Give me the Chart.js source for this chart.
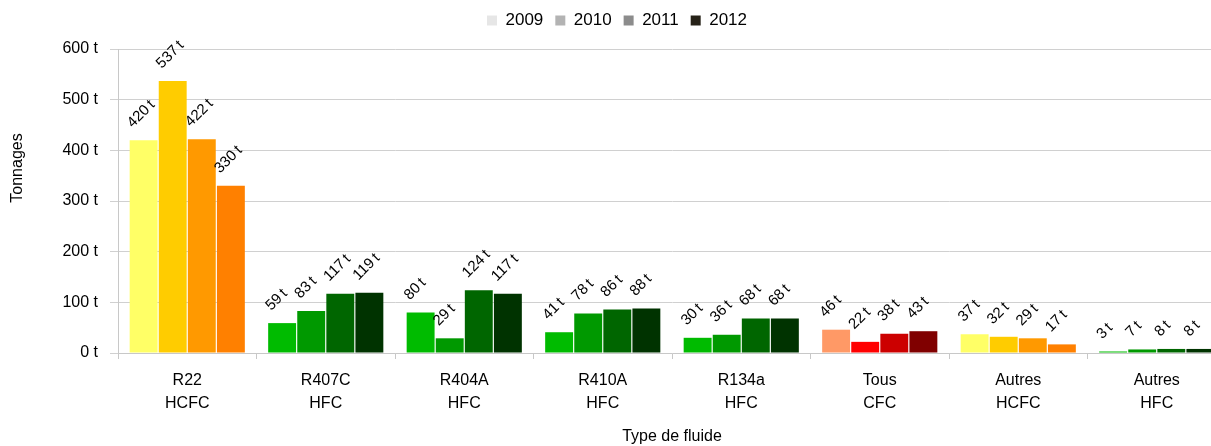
<!DOCTYPE html>
<html>
<head>
<meta charset="utf-8">
<script src="https://cdn.jsdelivr.net/npm/chart.js@4/dist/chart.umd.min.js"></script>
<style>
  html, body { margin: 0; padding: 0; background: #fff; overflow: hidden; }
  #wrap { width: 1211px; height: 446px; overflow: hidden; }
  #wrap div { width: 1226px; height: 446px; }
</style>
</head>
<body>
<div id="wrap"><div><canvas id="fluides" width="1226" height="446"></canvas></div></div>
<script>
// categories (two-line labels)
const categories = [
  ['R22', 'HCFC'], ['R407C', 'HFC'], ['R404A', 'HFC'], ['R410A', 'HFC'],
  ['R134a', 'HFC'], ['Tous', 'CFC'], ['Autres', 'HCFC'], ['Autres', 'HFC']
];
const years = ['2009', '2010', '2011', '2012'];

// tonnages per year
const v2009 = [420, 59, 80, 41, 30, 46, 37, 3];
const v2010 = [537, 83, 29, 78, 36, 22, 32, 7];
const v2011 = [422, 117, 124, 86, 68, 38, 29, 8];
const v2012 = [330, 119, 117, 88, 68, 43, 17, 8];

// colour families (one colour per year)
const hcfcColors = ['#ffff66', '#ffcc00', '#ff9900', '#ff8000'];
const hfcColors = ['#00bb00', '#009900', '#006600', '#003300'];
const cfcColors = ['#ff9966', '#ff0000', '#cc0000', '#800000'];
const family = [hcfcColors, hfcColors, hfcColors, hfcColors, hfcColors, cfcColors, hcfcColors, hfcColors];
const legendColors = ['#e6e6e6', '#b3b3b3', '#8c8c8c', '#262218'];

const yTicks = [0, 100, 200, 300, 400, 500, 600];

const font = "'Liberation Sans', Arial, sans-serif";

const series = [v2009, v2010, v2011, v2012];

// rotated value labels above each bar
const barLabels = {
  id: 'barLabels',
  afterDatasetsDraw(chart) {
    const ctx = chart.ctx;
    ctx.save();
    ctx.font = '15px ' + font;
    ctx.fillStyle = '#000';
    ctx.textAlign = 'left';
    ctx.textBaseline = 'alphabetic';
    chart.data.datasets.forEach((ds, i) => {
      chart.getDatasetMeta(i).data.forEach((bar, j) => {
        const left = bar.x - bar.width / 2;
        ctx.save();
        ctx.translate(left + 3, bar.y - 12);
        ctx.rotate(-Math.PI / 4);
        ctx.fillText(ds.data[j] + '\u2009t', 0, 0);
        ctx.restore();
      });
    });
    ctx.restore();
  }
};

// extra room under the legend + y title placed a bit above centre
const layoutTweaks = {
  id: 'layoutTweaks',
  beforeInit(chart) {
    const lg = chart.legend;
    const fit = lg.fit;
    lg.fit = function () {
      fit.call(this);
      this.height += 10;
    };
  },
  afterDraw(chart) {
    const ctx = chart.ctx;
    ctx.save();
    ctx.font = '16px ' + font;
    ctx.fillStyle = '#000';
    ctx.textAlign = 'center';
    ctx.textBaseline = 'middle';
    ctx.translate(18, 168);
    ctx.rotate(-Math.PI / 2);
    ctx.fillText('Tonnages', 0, 0);
    ctx.restore();
  }
};

new Chart(document.getElementById('fluides'), {
  type: 'bar',
  data: {
    labels: categories,
    datasets: years.map((y, i) => ({
      label: y,
      data: series[i],
      backgroundColor: family.map(f => f[i]),
      borderWidth: 0,
      categoryPercentage: 0.84,
      barPercentage: 0.96
    }))
  },
  options: {
    responsive: false,
    animation: false,
    layout: { padding: { top: 0, left: 8, right: 0, bottom: 0 } },
    plugins: {
      tooltip: { enabled: false },
      legend: {
        position: 'top',
        labels: {
          font: { family: font, size: 17 },
          color: '#000',
          boxWidth: 10,
          boxHeight: 10,
          padding: 12,
          generateLabels: chart => years.map((y, i) => ({
            text: y,
            fillStyle: legendColors[i],
            strokeStyle: legendColors[i],
            lineWidth: 0,
            datasetIndex: i
          }))
        }
      }
    },
    scales: {
      x: {
        grid: { display: true, drawOnChartArea: false, color: '#c8c8c8', tickLength: 6, offset: true },
        border: { color: '#c8c8c8' },
        ticks: { font: { family: font, size: 16, lineHeight: 1.44 }, color: '#000', padding: 10, maxRotation: 0, autoSkip: false },
        title: { display: true, text: 'Type de fluide', font: { family: font, size: 16 }, color: '#000', padding: { top: 8, bottom: 0 } },
        afterFit: s => { s.height = 93; }
      },
      y: {
        min: 0,
        max: 600,
        afterBuildTicks: s => { s.ticks = yTicks.map(v => ({ value: v })); },
        grid: { color: '#d0d0d0', tickLength: 8 },
        border: { color: '#c8c8c8' },
        ticks: { font: { family: font, size: 16 }, color: '#000', padding: 12, callback: v => v + ' t' },
        afterFit: s => { s.width = 110; }
      }
    }
  },
  plugins: [barLabels, layoutTweaks]
});
</script>
</body>
</html>
